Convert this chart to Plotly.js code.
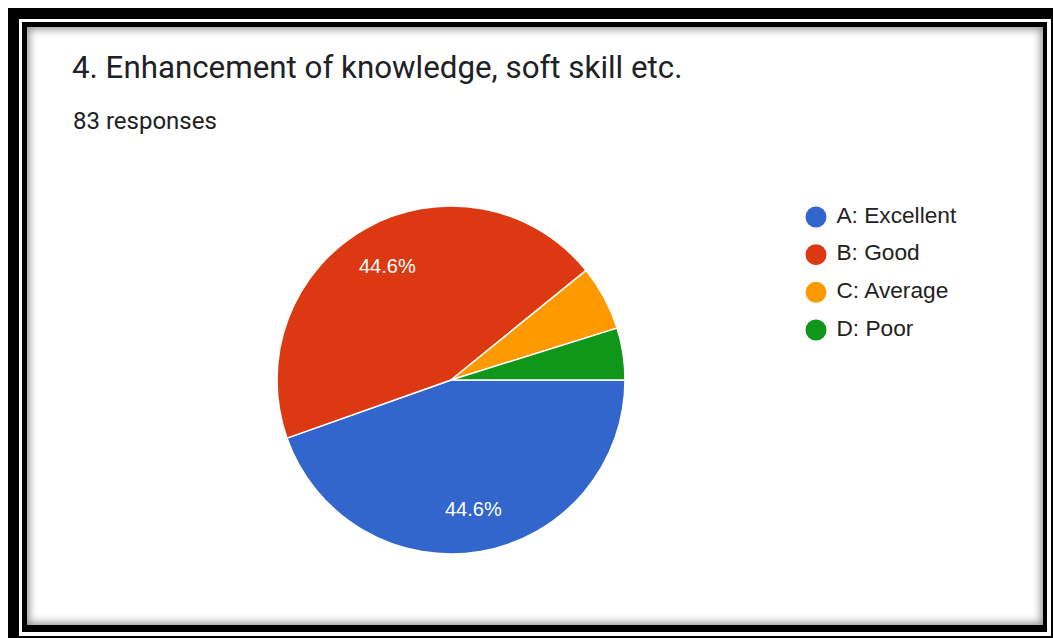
<!DOCTYPE html>
<html>
<head>
<meta charset="utf-8">
<script src="https://cdn.plot.ly/plotly-3.0.1.min.js"></script>
<style>
  html, body { margin: 0; padding: 0; background: #fff; width: 1053px; height: 638px; overflow: hidden; }
  .f { position: absolute; }
  #outer { left: 8px; top: 8px; width: 1045px; height: 630px; background: #000; }
  #gap { left: 19px; top: 19px; width: 1032px; height: 617px; background: #fff; }
  #inner { left: 22px; top: 22px; width: 1025px; height: 610px; background: #000; }
  #content { left: 27px; top: 27px; width: 1016px; height: 598px; background: #fff;
             box-shadow: inset 0 0 9px 2px rgba(0,0,0,0.45); }
  #chart { position: absolute; left: 0; top: 0; width: 1053px; height: 638px; z-index: 5; }
</style>
</head>
<body>
<div class="f" id="outer"></div>
<div class="f" id="gap"></div>
<div class="f" id="inner"></div>
<div class="f" id="content"></div>
<div id="chart"></div>
<script>
const categories = ["A: Excellent", "B: Good", "C: Average", "D: Poor"];
const responses = [37, 37, 5, 4];
const colors = ["#3366cc", "#dc3912", "#ff9900", "#109618"];
const showSliceLabel = [true, true, false, false];
const titleText = "4. Enhancement of knowledge, soft skill etc.";
const subtitleText = "83 responses";

const W = 1053, H = 638;
const cx = 451, cy = 380, r = 174;
const startDeg = 0;        // slices start at 3 o'clock, clockwise
const labelRadius = 0.75;  // fraction of radius for slice labels

const pie = {
  type: "pie",
  values: responses,
  labels: categories,
  sort: false,
  direction: "clockwise",
  rotation: 90,
  marker: { colors: colors, line: { color: "#ffffff", width: 1.5 } },
  textinfo: "none",
  hoverinfo: "skip",
  showlegend: false,
  domain: { x: [(cx - r) / W, (cx + r) / W], y: [1 - (cy + r) / H, 1 - (cy - r) / H] }
};

const legendMarkers = {
  type: "scatter",
  mode: "markers+text",
  x: categories.map(() => 0),
  y: categories.map((c, i) => i),
  text: categories.map(c => "\u00a0" + c),
  textposition: "middle right",
  textfont: { family: "Liberation Sans, Arial, sans-serif", size: 22.7, color: "#222222" },
  marker: { color: colors, size: 21, symbol: "circle" },
  cliponaxis: false,
  hoverinfo: "skip",
  showlegend: false
};

// slice labels computed from the data (bisector of each slice)
const total = responses.reduce((a, b) => a + b, 0);
const sliceAnnotations = [];
let cum = 0;
responses.forEach((v, i) => {
  const mid = cum + v / 2;
  cum += v;
  if (!showSliceLabel[i]) return;
  const ang = (startDeg + mid / total * 360) * Math.PI / 180;
  const px = cx + labelRadius * r * Math.cos(ang);
  const py = cy + labelRadius * r * Math.sin(ang);
  sliceAnnotations.push({
    text: (v / total * 100).toFixed(1) + "%",
    xref: "paper", yref: "paper",
    x: px / W, y: 1 - py / H, xanchor: "center", yanchor: "middle",
    showarrow: false,
    font: { family: "Liberation Sans, Arial, sans-serif", size: 20, color: "#ffffff" }
  });
});

const legTop = 217 - 18.8, legBot = 330 + 18.8;

const layout = {
  width: W, height: H,
  margin: { l: 0, r: 0, t: 0, b: 0 },
  paper_bgcolor: "rgba(0,0,0,0)",
  plot_bgcolor: "rgba(0,0,0,0)",
  showlegend: false,
  title: {
    text: titleText,
    x: 72 / W, xanchor: "left",
    y: 1 - 67 / H, yanchor: "middle",
    font: { family: "Roboto, sans-serif", size: 31.3, color: "#202124" }
  },
  annotations: [{
    text: subtitleText, xref: "paper", yref: "paper",
    x: 71 / W, xanchor: "left", y: 1 - 121 / H, yanchor: "middle",
    showarrow: false,
    font: { family: "Roboto, sans-serif", size: 24, color: "#202124" }
  }].concat(sliceAnnotations),
  xaxis: { domain: [816 / W, 0.99], range: [0, 1], visible: false, fixedrange: true },
  yaxis: { domain: [1 - legBot / H, 1 - legTop / H], range: [3.5, -0.5], visible: false, fixedrange: true }
};

Plotly.newPlot("chart", [pie, legendMarkers], layout, { displayModeBar: false, staticPlot: true });
</script>
</body>
</html>
